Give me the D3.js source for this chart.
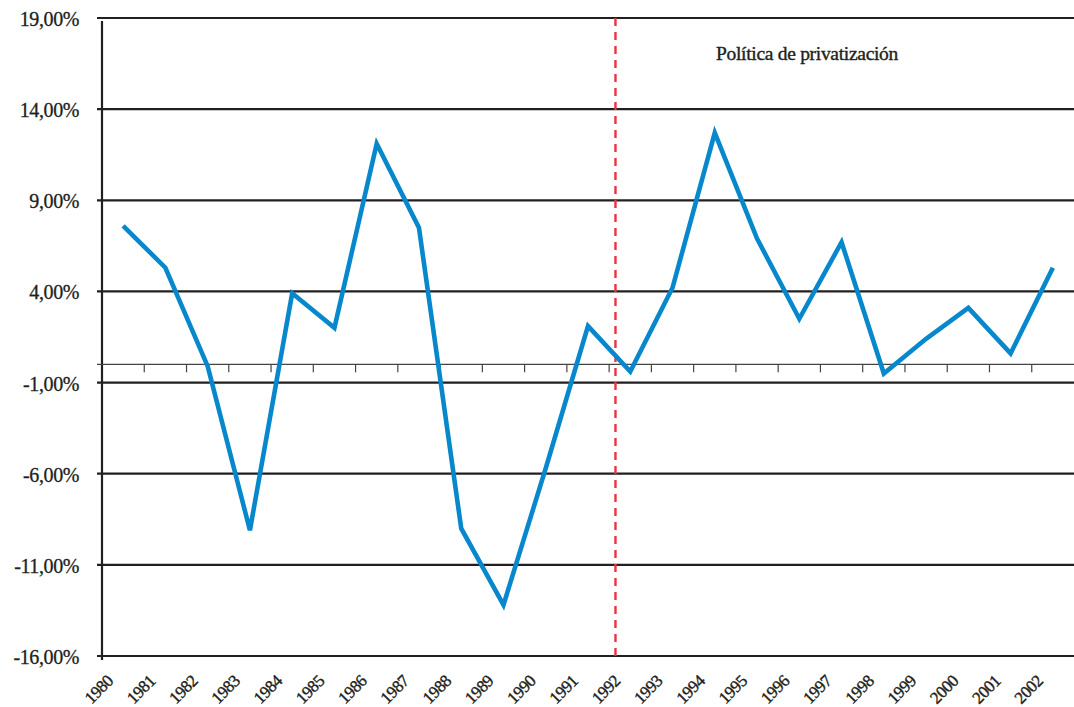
<!DOCTYPE html>
<html>
<head>
<meta charset="utf-8">
<script src="https://cdn.jsdelivr.net/npm/d3@7"></script>
<style>
  body { margin: 0; background: #fff; }
  text { font-family: "Liberation Serif", "Times New Roman", serif; fill: #231f20; }
</style>
</head>
<body>
<svg id="chart"></svg>
<script>
// data
var years = ["1980", "1981", "1982", "1983", "1984", "1985", "1986", "1987", "1988", "1989", "1990", "1991",
             "1992", "1993", "1994", "1995", "1996", "1997", "1998", "1999", "2000", "2001", "2002"];
var growth = [7.6, 5.3, -0.1, -9.1, 3.9, 2.0, 12.1, 7.5, -9.0, -13.2, -5.7, 2.1,
              -0.4, 4.2, 12.7, 6.9, 2.5, 6.7, -0.5, 1.4, 3.1, 0.6, 5.3];
var yTicks = [19, 14, 9, 4, -1, -6, -11, -16];
var dividerYear = "1992";
var annotation = "Política de privatización";

var width = 1074, height = 707;
var margin = {top: 18, right: 0, bottom: 51, left: 102};

var svg = d3.select('#chart')
  .attr('width', width)
  .attr('height', height);

var x = d3.scaleBand()
  .domain(years)
  .range([margin.left, width - margin.right]);

var y = d3.scaleLinear()
  .domain([-16, 19])
  .range([height - margin.bottom, margin.top]);

var bw = x.bandwidth();

// horizontal grid lines (with the small stubs left of the axis)
svg.append('g')
  .selectAll('line')
  .data(yTicks)
  .enter()
    .append('line')
      .attr('x1', margin.left - 5)
      .attr('x2', width - margin.right)
      .attr('y1', function (d) { return y(d); })
      .attr('y2', function (d) { return y(d); })
      .attr('stroke', '#231f20')
      .attr('stroke-width', 2.2);

// y labels
svg.append('g')
  .selectAll('text')
  .data(yTicks)
  .enter()
    .append('text')
      .attr('x', 79)
      .attr('y', function (d) { return y(d) + 8; })
      .attr('text-anchor', 'end')
      .attr('stroke', '#231f20')
      .attr('stroke-width', 0.3)
      .style('font-size', '20px')
      .style('letter-spacing', '-0.4px')
      .text(function (d) { return d.toFixed(2).replace('.', ',') + '%'; });

// vertical axis
svg.append('line')
  .attr('x1', margin.left).attr('x2', margin.left)
  .attr('y1', y(19) + 3).attr('y2', y(-16) + 4)
  .attr('stroke', '#231f20')
  .attr('stroke-width', 2.2);

// zero line with category ticks
svg.append('line')
  .attr('x1', margin.left - 5)
  .attr('x2', width - margin.right)
  .attr('y1', y(0)).attr('y2', y(0))
  .attr('stroke', '#444')
  .attr('stroke-width', 1.2);

svg.append('g')
  .selectAll('line')
  .data(years.slice(1))
  .enter()
    .append('line')
      .attr('x1', function (d) { return x(d); })
      .attr('x2', function (d) { return x(d); })
      .attr('y1', y(0))
      .attr('y2', y(0) + 8)
      .attr('stroke', '#444')
      .attr('stroke-width', 1.2);

// year labels, rotated
svg.append('g')
  .selectAll('text')
  .data(years)
  .enter()
    .append('text')
      .attr('text-anchor', 'end')
      .attr('transform', function (d) {
        return 'translate(' + (x(d) + bw / 2 - 9) + ',' + 682 + ') rotate(-45)';
      })
      .attr('stroke', '#231f20')
      .attr('stroke-width', 0.4)
      .style('font-size', '17px')
      .style('letter-spacing', '-0.5px')
      .text(function (d) { return d; });

// privatisation divider
var dx = x(dividerYear) + bw * 0.15;
svg.append('line')
  .attr('x1', dx).attr('x2', dx)
  .attr('y1', y(19)).attr('y2', y(-16) + 4)
  .attr('stroke', '#e8343f')
  .attr('stroke-width', 2.4)
  .attr('stroke-dasharray', '8,6');

svg.append('text')
  .attr('x', 716)
  .attr('y', 60)
  .attr('stroke', '#231f20')
  .attr('stroke-width', 0.4)
  .style('font-size', '19.5px')
  .style('letter-spacing', '-0.3px')
  .text(annotation);

// the series
var line = d3.line()
  .x(function (d, i) { return x(years[i]) + bw / 2; })
  .y(function (d) { return y(d); });

svg.append('path')
  .datum(growth)
  .attr('d', line)
  .attr('fill', 'none')
  .attr('stroke', '#0888cc')
  .attr('stroke-width', 4.6)
  .attr('stroke-linejoin', 'miter');
</script>
</body>
</html>
